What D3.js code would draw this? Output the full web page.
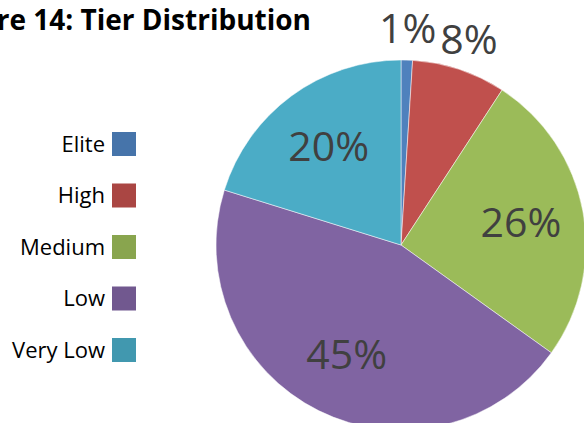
<!DOCTYPE html>
<html>
<head>
<meta charset="utf-8">
<script src="https://cdn.jsdelivr.net/npm/d3@7"></script>
<style>
  body { margin: 0; background: #fff; overflow: hidden; }
  text { font-family: "Open Sans", "Noto Sans", sans-serif; }
</style>
</head>
<body>
<div id="chart"></div>
<script>
// Chart size
var width = 584, height = 423;

// Data
const tiers = ["Elite", "High", "Medium", "Low", "Very Low"];
const shares = [1.0, 8.2, 25.7, 44.9, 20.2];

// Colors (slice fill and the slightly darker legend swatch)
const sliceColors = ["#4f81bd", "#c0504d", "#9bbb59", "#8064a2", "#4bacc6"];
const swatchColors = ["#4674aa", "#aa4643", "#89a54e", "#71588f", "#4198af"];

var data = tiers.map(function (t, i) {
  return { tier: t, value: shares[i] };
});

var svg = d3.select("#chart")
  .append("svg")
  .attr("width", width)
  .attr("height", height);

// Title (left part runs off the page like the original)
svg.append("text")
  .attr("x", 311)
  .attr("y", 30)
  .attr("text-anchor", "end")
  .style("font-size", "28px")
  .style("font-weight", "bold")
  .style("fill", "#000")
  .text("Figure 14: Tier Distribution");

// Pie
var radius = 185;
var g = svg.append("g")
  .attr("transform", "translate(401,245)");

var pie = d3.pie()
  .sort(null)
  .value(function (d) { return d.value; });

var arc = d3.arc().innerRadius(0).outerRadius(radius);
var inLabel = d3.arc().innerRadius(122).outerRadius(122);
var outLabel = d3.arc().innerRadius(216).outerRadius(216);

var arcs = pie(data);

g.selectAll("path")
  .data(arcs)
  .enter()
  .append("path")
  .attr("d", arc)
  .style("fill", function (d, i) { return sliceColors[i]; })
  .style("stroke", "#fff")
  .style("stroke-width", 0.5);

// Percentage labels: small slices go outside
g.selectAll(".pct")
  .data(arcs)
  .enter()
  .append("text")
  .attr("class", "pct")
  .attr("transform", function (d) {
    var c = d.data.value < 10 ? outLabel.centroid(d) : inLabel.centroid(d);
    return "translate(" + c[0] + "," + c[1] + ")";
  })
  .attr("text-anchor", "middle")
  .attr("dy", "0.35em")
  .style("font-size", "41px")
  .style("fill", "#404040")
  .text(function (d) { return Math.round(d.data.value) + "%"; });

// Legend
var legend = svg.append("g");
var rowY = d3.scalePoint().domain(tiers).range([144, 350]);

var rows = legend.selectAll(".row")
  .data(tiers)
  .enter()
  .append("g")
  .attr("class", "row")
  .attr("transform", function (d) { return "translate(0," + rowY(d) + ")"; });

rows.append("rect")
  .attr("x", 112)
  .attr("y", -12)
  .attr("width", 24)
  .attr("height", 24)
  .style("fill", function (d, i) { return swatchColors[i]; });

rows.append("text")
  .attr("x", 105)
  .attr("dy", "0.35em")
  .attr("text-anchor", "end")
  .style("font-size", "22px")
  .style("fill", "#000")
  .text(function (d) { return d; });
</script>
</body>
</html>
